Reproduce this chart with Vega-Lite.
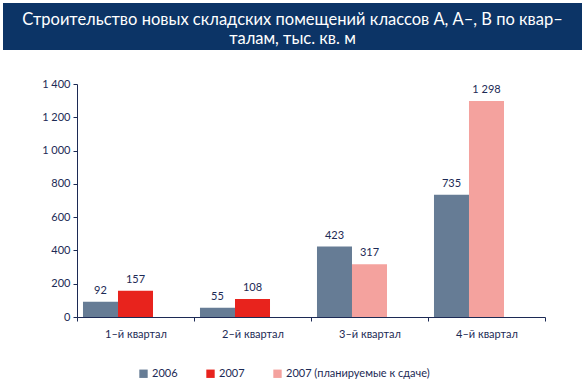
{
  "$schema": "https://vega.github.io/schema/vega-lite/v6.json",
  "padding": {"left": 3, "top": 3, "right": 4, "bottom": 0},
  "bounds": "flush",
  "spacing": 34,
  "config": {
    "font": "Lato",
    "locale": {"number": {"decimal": ",", "thousands": " ", "grouping": [3], "currency": ["", ""]}},
    "legend": {"padding": 0}
  },
  "vconcat": [
    {
      "width": 579,
      "height": 47,
      "view": {"fill": "#0c3466", "stroke": null},
      "data": {"values": [{"t": "Строительство новых складских помещений классов А, А–, В по квар–\nталам, тыс. кв. м"}]},
      "mark": {"type": "text", "color": "#ffffff", "fontSize": 16.5, "lineBreak": "\n", "lineHeight": 19, "align": "center", "baseline": "middle", "dy": -7},
      "encoding": {"text": {"field": "t", "type": "nominal"}}
    },
    {
      "width": 579,
      "height": 233,
      "view": {"stroke": null},
      "data": {"values": [
        {"q": "1–й квартал", "series": "2006", "slot": "a", "v": 92},
        {"q": "1–й квартал", "series": "2007", "slot": "b", "v": 157},
        {"q": "2–й квартал", "series": "2006", "slot": "a", "v": 55},
        {"q": "2–й квартал", "series": "2007", "slot": "b", "v": 108},
        {"q": "3–й квартал", "series": "2006", "slot": "a", "v": 423},
        {"q": "3–й квартал", "series": "2007 (планируемые к сдаче)", "slot": "b", "v": 317},
        {"q": "4–й квартал", "series": "2006", "slot": "a", "v": 735},
        {"q": "4–й квартал", "series": "2007 (планируемые к сдаче)", "slot": "b", "v": 1298}
      ]},
      "encoding": {
        "x": {"field": "q", "type": "nominal", "sort": null,
          "scale": {"range": [74, 542], "paddingInner": 0, "paddingOuter": 0},
          "axis": {"title": null, "labelAngle": 0, "tickBand": "extent", "domainColor": "#1c2a55", "tickColor": "#1c2a55", "tickSize": 4, "labelPadding": 7, "labelColor": "#1c2a55", "labelFontSize": 11}},
        "xOffset": {"field": "slot", "type": "nominal", "scale": {"domain": ["a", "b", "c"], "paddingInner": 0, "paddingOuter": 0.171}},
        "y": {"field": "v", "type": "quantitative",
          "scale": {"domain": [0, 1400]},
          "axis": {"title": null, "offset": -74, "values": [0, 200, 400, 600, 800, 1000, 1200, 1400], "format": ",d", "grid": false, "domainColor": "#1c2a55", "tickColor": "#1c2a55", "tickSize": 4, "labelPadding": 3, "labelColor": "#1c2a55", "labelFontSize": 11}}
      },
      "layer": [
        {
          "mark": {"type": "bar"},
          "encoding": {
            "color": {"field": "series", "type": "nominal",
              "scale": {"domain": ["2006", "2007", "2007 (планируемые к сдаче)"], "range": ["#667c95", "#e8231d", "#f4a29e"]},
              "legend": {"title": null, "orient": "none", "direction": "horizontal", "legendX": 135, "legendY": 365, "symbolType": "square", "symbolSize": 70, "symbolStrokeWidth": 0, "symbolOpacity": 1, "columnPadding": 27, "labelOffset": 3, "labelFontSize": 11, "labelColor": "#1c2a55"}}
          }
        },
        {
          "mark": {"type": "text", "baseline": "bottom", "dy": -6, "fontSize": 11, "color": "#1c2a55"},
          "encoding": {"text": {"field": "v", "type": "quantitative", "format": ",d"}}
        }
      ]
    }
  ]
}
